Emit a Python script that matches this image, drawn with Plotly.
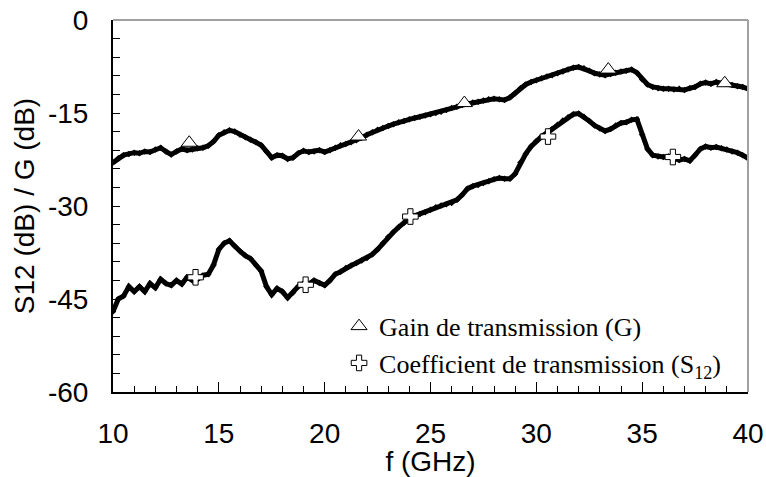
import numpy as np
import plotly.graph_objects as go

# Frequency grid (GHz), 0.25 GHz step
freq = [10 + 0.25 * i for i in range(121)]

# Transmission gain G (dB)
gain_db = [
    -23.0, -22.3, -21.8, -21.6, -21.4, -21.5, -21.2, -21.3, -20.9, -20.6,
    -21.2, -21.7, -21.2, -20.8, -21.0, -20.9, -20.7, -20.6, -20.3, -19.6,
    -18.6, -18.1, -17.8, -18.0, -18.5, -18.9, -19.3, -19.7, -20.2, -21.2,
    -22.2, -21.8, -21.9, -22.4, -22.2, -21.5, -21.1, -21.3, -21.2, -21.0,
    -21.3, -21.0, -20.6, -20.2, -20.0, -19.7, -19.4, -19.0, -18.5, -18.1,
    -17.7, -17.4, -17.1, -16.8, -16.5, -16.3, -16.0, -15.8, -15.6, -15.4,
    -15.2, -15.0, -14.8, -14.5, -14.2, -14.0, -13.7, -13.5, -13.3, -13.2,
    -13.0, -12.8, -12.7, -12.8, -12.9, -12.5, -11.8, -11.0, -10.4, -10.0,
    -9.7, -9.4, -9.1, -8.9, -8.6, -8.3, -8.0, -7.7, -7.6, -7.8,
    -8.2, -8.6, -8.8, -8.9, -8.7, -8.5, -8.3, -8.2, -8.0, -8.5,
    -9.6, -10.4, -10.8, -11.0, -11.1, -11.1, -11.2, -11.1, -11.3, -11.0,
    -10.8, -10.3, -10.1, -10.3, -10.0, -10.2, -10.3, -10.5, -10.7, -10.8,
    -11.1,
]

# Transmission coefficient S12 (dB)
s12_db = [
    -47.0, -45.0, -44.5, -43.0, -43.8, -43.0, -43.8, -42.5, -43.2, -41.8,
    -42.5, -42.8, -42.0, -42.6, -41.5, -42.0, -41.8, -41.2, -41.0, -39.5,
    -37.0, -36.0, -35.6, -36.5, -37.3, -38.0, -38.5, -39.5, -40.5, -43.0,
    -44.3, -43.3, -43.8, -44.8, -44.0, -43.0, -42.5, -42.6, -42.0, -42.4,
    -42.8, -42.0, -41.0, -40.6, -40.0, -39.6, -39.2, -38.8, -38.4, -37.8,
    -37.0, -36.0, -35.0, -34.2, -33.4, -32.7, -32.0, -31.6, -31.3, -31.0,
    -30.6, -30.2, -29.9, -29.7, -29.5, -29.0, -28.2, -27.2, -26.8, -26.6,
    -26.3, -26.0, -25.7, -25.5, -25.6, -25.6, -24.8, -23.0, -21.6, -20.4,
    -19.5, -18.8, -18.2, -17.6, -16.9, -16.2, -15.7, -15.2, -15.1, -15.6,
    -16.3, -17.0, -17.5, -17.9, -17.6, -17.0, -16.6, -16.5, -16.1, -16.0,
    -18.5, -20.8, -21.8, -22.0, -22.1, -22.0, -22.3, -22.6, -22.4, -22.7,
    -21.8, -20.8, -20.4, -20.6, -20.5, -20.7, -20.9, -21.2, -21.4, -21.8,
    -22.3,
]

# Highlighted symbols along each curve
gain_mark_f = [13.6, 21.6, 26.6, 33.4, 38.9]
gain_mark_db = [-19.8, -18.8, -13.4, -8.0, -10.2]
s12_mark_f = [13.9, 19.1, 24.05, 30.55, 36.45]
s12_mark_db = [-41.5, -42.7, -31.7, -18.8, -22.1]

x_ticks = [10, 15, 20, 25, 30, 35, 40]
y_ticks = [0, -15, -30, -45, -60]
y_tick_text = ["0", "-15", "-30", "-45", "-60"]

fig = go.Figure()

for yv in (gain_db, s12_db):
    fig.add_trace(go.Scatter(
        x=freq, y=yv, mode="lines+markers",
        line=dict(color="black", width=5),
        marker=dict(symbol="diamond", size=5, color="black"),
        showlegend=False, hoverinfo="skip",
    ))

fig.add_trace(go.Scatter(
    x=gain_mark_f, y=gain_mark_db, mode="markers",
    name="Gain de transmission (G)",
    marker=dict(symbol="triangle-up", size=14, color="white",
                line=dict(color="black", width=1)),
))
fig.add_trace(go.Scatter(
    x=s12_mark_f, y=s12_mark_db, mode="markers",
    name="Coefficient de transmission (S<sub>12</sub>)",
    marker=dict(symbol="cross", size=13, color="white",
                line=dict(color="black", width=1)),
))

axis_font = dict(family="Liberation Sans, Arial", size=28, color="black")

fig.update_layout(
    width=766, height=477,
    margin=dict(l=113, r=18, t=20, b=85),
    paper_bgcolor="white", plot_bgcolor="white",
    font=axis_font,
    xaxis=dict(
        range=[10, 40], tickvals=x_ticks,
        ticks="inside", ticklen=10, tickwidth=1, tickcolor="black",
        minor=dict(dtick=1, ticks="inside", ticklen=6, tickwidth=1, tickcolor="black"),
        showline=True, linecolor="black", linewidth=2,
        showgrid=False, zeroline=False, automargin=False,
        ticklabelstandoff=15,
        tickfont=axis_font,
        title=dict(text="f (GHz)", font=axis_font, standoff=12),
    ),
    yaxis=dict(
        range=[-60, 0], tickvals=y_ticks, ticktext=y_tick_text,
        ticks="inside", ticklen=7, tickwidth=1, tickcolor="black",
        minor=dict(dtick=3, ticks="inside", ticklen=7, tickwidth=1, tickcolor="black"),
        showline=True, linecolor="black", linewidth=2,
        showgrid=False, zeroline=False, automargin=False,
        ticklabelstandoff=17,
        tickfont=axis_font,
        title=dict(text="S12 (dB) / G (dB)", font=axis_font, standoff=5),
    ),
    legend=dict(
        x=0.356, y=0.24, xanchor="left", yanchor="top",
        bgcolor="rgba(0,0,0,0)",
        font=dict(family="Liberation Serif, Times New Roman", size=26, color="black"),
        tracegroupgap=0,
    ),
    shapes=[
        dict(type="line", xref="paper", yref="paper", x0=0, x1=1, y0=1, y1=1,
             line=dict(color="#a0a0a0", width=2)),
        dict(type="line", xref="paper", yref="paper", x0=1, x1=1, y0=0, y1=1,
             line=dict(color="#a0a0a0", width=2)),
    ],
)

fig.write_html("out.html")
